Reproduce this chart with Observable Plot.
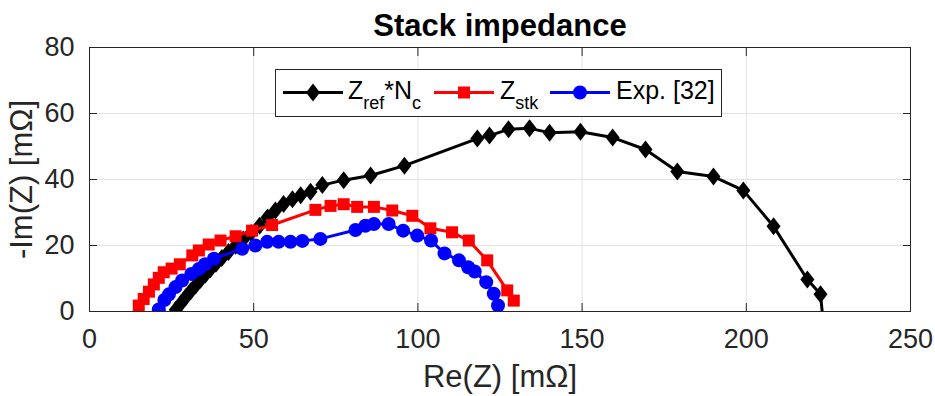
<!DOCTYPE html>
<html>
<head>
<meta charset="utf-8">
<script src="https://cdn.jsdelivr.net/npm/d3@7"></script>
<script src="https://cdn.jsdelivr.net/npm/@observablehq/plot@0.6"></script>
<style>
  html, body { margin: 0; padding: 0; background: #fff; }
  #chart svg { display: block; }
</style>
</head>
<body>
<div id="chart"></div>
<script>
// ---- data ----
const refRe = [26.3, 27.8, 29.3, 30.8, 32.3, 33.8, 35.3, 36.8, 38.5, 40.3, 42.3, 44.5, 46.8, 49.2, 51.8, 54.2, 56.6, 59.1, 61.8, 64.3, 67.3, 70.9, 77.4, 85.6, 95.9, 118.1, 121.8, 127.6, 134.0, 140.1, 149.5, 159.3, 169.3, 179.0, 190.0, 199.1, 208.3, 218.6, 222.6, 223.4];
const refIm = [0.5, 2.4, 4.3, 6.1, 7.9, 9.6, 11.2, 12.8, 14.5, 16.2, 18.0, 19.9, 21.8, 23.8, 26.0, 28.5, 30.6, 32.6, 34.0, 35.2, 36.3, 38.3, 39.8, 41.2, 44.2, 52.4, 53.3, 55.2, 55.5, 54.2, 54.5, 52.7, 49.1, 42.4, 40.9, 36.7, 25.8, 9.7, 5.2, -3];

const stkRe = [15.0, 16.5, 18.1, 19.6, 21.1, 22.6, 25.0, 27.5, 31.3, 33.3, 36.3, 39.9, 44.5, 49.5, 55.6, 68.8, 73.4, 77.4, 81.5, 86.6, 92.2, 98.3, 103.8, 110.4, 115.5, 121.1, 127.2, 129.2];
const stkIm = [1.8, 3.8, 6.0, 8.2, 10.2, 11.9, 13.0, 14.3, 17.0, 18.5, 20.3, 21.5, 22.8, 24.5, 26.2, 30.8, 32.0, 32.5, 31.7, 31.7, 30.6, 29.0, 25.2, 24.0, 21.5, 15.5, 6.4, 3.3];

const expRe = [21.1, 22.8, 24.2, 26.2, 28.2, 31.0, 33.3, 35.2, 37.9, 46.5, 50.5, 54.1, 57.6, 61.2, 64.8, 70.3, 81.0, 84.0, 86.6, 91.1, 95.5, 99.8, 104.0, 108.1, 112.5, 115.3, 117.3, 120.8, 123.1, 124.4];
const expIm = [0.6, 3.5, 5.2, 7.4, 9.4, 11.4, 12.9, 14.3, 16.0, 19.0, 20.0, 21.1, 21.1, 21.1, 21.4, 22.0, 24.7, 26.0, 26.5, 26.5, 24.5, 23.0, 21.5, 17.6, 15.5, 13.4, 12.1, 8.9, 5.4, 1.8];

const xTicks = [0, 50, 100, 150, 200, 250];
const yTicks = [0, 20, 40, 60, 80];
const titleText = "Stack impedance";
const xLabel = "Re(Z) [mΩ]";
const yLabel = "-Im(Z) [mΩ]";

// ---- build tables ----
const toRows = (re, im) => re.map((r, i) => ({re: r, im: im[i]}));
const refRows = toRows(refRe, refIm);
const stkRows = toRows(stkRe, stkIm);
const expRows = toRows(expRe, expIm);

// MATLAB-like marker shapes
const diamondSym = {draw(c) { c.moveTo(0, -9); c.lineTo(7, 0); c.lineTo(0, 9); c.lineTo(-7, 0); c.closePath(); }};
const squareSym = {draw(c) { c.rect(-6, -6, 12, 12); }};
const circleSym = {draw(c) { c.moveTo(7, 0); c.arc(0, 0, 7, 0, 2 * Math.PI); }};

const FONT = "'Liberation Sans', Arial, Helvetica, sans-serif";
const AX = "#262626";
const GRID = "#e3e3e3";

const series = [
  {rows: refRows, color: "#000000", sym: diamondSym},
  {rows: stkRows, color: "#ff0000", sym: squareSym},
  {rows: expRows, color: "#0000ff", sym: circleSym}
];

const marks = [
  Plot.gridX(xTicks, {stroke: GRID, strokeOpacity: 1, strokeWidth: 1}),
  Plot.gridY(yTicks, {stroke: GRID, strokeOpacity: 1, strokeWidth: 1})
];
for (const s of series) {
  marks.push(Plot.line(s.rows, {x: "re", y: "im", stroke: s.color, strokeWidth: 3, clip: true}));
  marks.push(Plot.dot(s.rows, {x: "re", y: "im", symbol: s.sym, fill: s.color, stroke: "none", clip: true}));
}
marks.push(
  // inward ticks (bottom/top/left/right)
  Plot.axisX(xTicks, {anchor: "bottom", tickSize: -8, text: null, stroke: AX, label: null}),
  Plot.axisX(xTicks, {anchor: "top", tickSize: -8, text: null, stroke: AX, label: null}),
  Plot.axisY(yTicks, {anchor: "left", tickSize: -8, text: null, stroke: AX, label: null}),
  Plot.axisY(yTicks, {anchor: "right", tickSize: -8, text: null, stroke: AX, label: null}),
  // tick labels
  Plot.axisX(xTicks, {anchor: "bottom", tickSize: 0, tickPadding: 17, fontSize: 27, fill: AX, label: null}),
  Plot.axisY(yTicks, {anchor: "left", tickSize: 0, tickPadding: 15, fontSize: 27, fill: AX, label: null}),
  Plot.frame({stroke: AX, strokeWidth: 1}),
  Plot.text([titleText], {frameAnchor: "top", dy: -21, fontSize: 31, fontWeight: "bold", fill: "#000", lineAnchor: "middle", textAnchor: "middle"}),
  Plot.text([xLabel], {frameAnchor: "bottom", dy: 66, fontSize: 31, fill: AX, lineAnchor: "middle", textAnchor: "middle"}),
  Plot.text([yLabel], {frameAnchor: "left", dx: -67, rotate: -90, fontSize: 31, fill: AX, lineAnchor: "middle", textAnchor: "middle"})
);

const chart = Plot.plot({
  width: 935,
  height: 396,
  marginLeft: 89,
  marginRight: 25,
  marginTop: 47,
  marginBottom: 85,
  x: {domain: [0, 250], ticks: xTicks},
  y: {domain: [0, 80], ticks: yTicks},
  style: {fontFamily: FONT, background: "#fff", overflow: "visible"},
  marks
});

// ---- legend (drawn on top, MATLAB style) ----
const svg = d3.select(chart);
const lg = svg.append("g").attr("font-family", FONT).attr("text-anchor", "start");
lg.append("rect").attr("x", 275.5).attr("y", 69.5).attr("width", 446).attr("height", 47)
  .attr("fill", "#fff").attr("stroke", AX).attr("stroke-width", 1);
const items = [
  {x0: 283, color: "#000", sym: diamondSym, text: [["Z", 0], ["ref", 1], ["*N", 0], ["c", 1]], tx: 348},
  {x0: 434, color: "#f00", sym: squareSym, text: [["Z", 0], ["stk", 1]], tx: 500},
  {x0: 550, color: "#00f", sym: circleSym, text: [["Exp. [32]", 0]], tx: 616}
];
const ly = 92.5;
for (const it of items) {
  lg.append("line").attr("x1", it.x0).attr("x2", it.x0 + 60).attr("y1", ly).attr("y2", ly)
    .attr("stroke", it.color).attr("stroke-width", 3);
  const p = d3.path(); it.sym.draw(p);
  lg.append("path").attr("d", p.toString()).attr("transform", `translate(${it.x0 + 30},${ly})`).attr("fill", it.color);
  const t = lg.append("text").attr("x", it.tx).attr("y", 98.5).attr("fill", "#000").attr("font-size", 25).attr("text-anchor", "start");
  let sub = 0;
  for (const [s, isSub] of it.text) {
    const ts = t.append("tspan").text(s);
    if (isSub !== sub) { ts.attr("dy", isSub ? 10 : -10); sub = isSub; }
    if (isSub) ts.attr("font-size", 18);
  }
}

document.getElementById("chart").appendChild(chart);
</script>
</body>
</html>
